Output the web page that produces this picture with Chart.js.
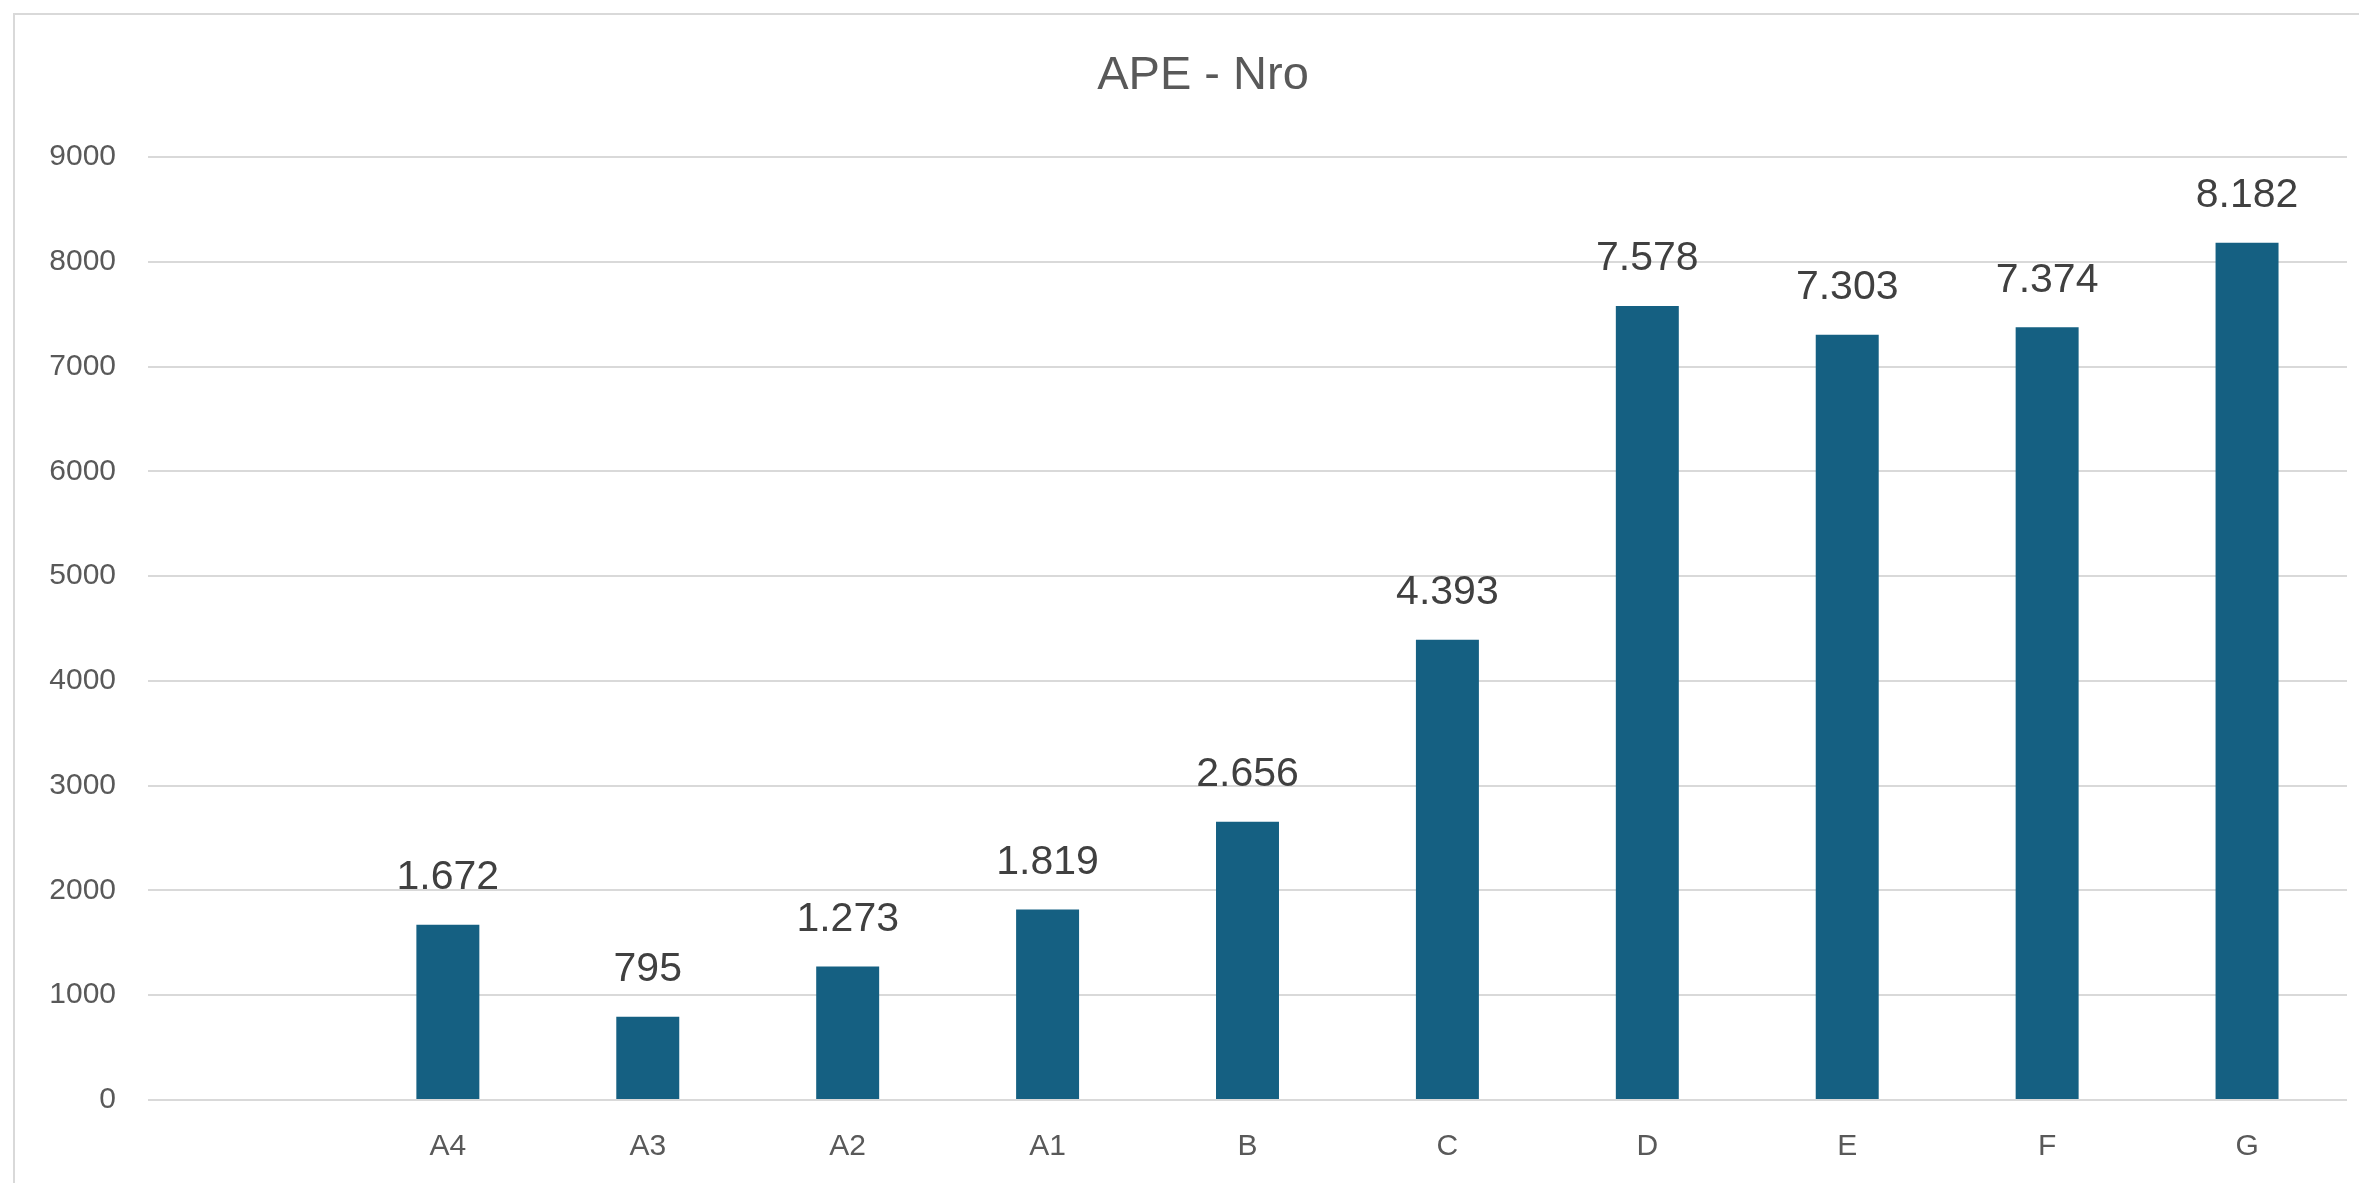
<!DOCTYPE html>
<html>
<head>
<meta charset="utf-8">
<script src="https://cdn.jsdelivr.net/npm/chart.js@4/dist/chart.umd.min.js"></script>
<style>
  html, body { margin: 0; padding: 0; background: #fff; overflow: hidden; }
  canvas { display: block; }
</style>
</head>
<body>
<canvas id="ape" width="2359" height="1183"></canvas>
<script>
// first slot is empty in the original sheet
const categories = ["", "A4", "A3", "A2", "A1", "B", "C", "D", "E", "F", "G"];
const counts = [null, 1672, 795, 1273, 1819, 2656, 4393, 7578, 7303, 7374, 8182];
const yTicks = [0, 1000, 2000, 3000, 4000, 5000, 6000, 7000, 8000, 9000];
const titleText = "APE - Nro";

const FONT = "'Liberation Sans', Arial, sans-serif";

function fmt(v) {
  return String(v).replace(/\B(?=(\d{3})+(?!\d))/g, ".");
}

// value labels above the bars
const barLabels = {
  id: "barLabels",
  afterDatasetsDraw(chart) {
    const ctx = chart.ctx;
    const meta = chart.getDatasetMeta(0);
    ctx.save();
    ctx.font = "41px " + FONT;
    ctx.fillStyle = "#404040";
    ctx.textAlign = "center";
    ctx.textBaseline = "middle";
    meta.data.forEach(function (bar, i) {
      const v = chart.data.datasets[0].data[i];
      if (v == null) return;
      ctx.fillText(fmt(v), bar.x, bar.y - 47);
    });
    ctx.restore();
  },
};

// chart frame (left + top edges visible) and the title, which sits a bit right of centre
const frame = {
  id: "frame",
  beforeDraw(chart) {
    const ctx = chart.ctx;
    ctx.save();
    ctx.strokeStyle = "#D9D9D9";
    ctx.lineWidth = 2;
    ctx.beginPath();
    ctx.moveTo(14, chart.height);
    ctx.lineTo(14, 14);
    ctx.lineTo(chart.width, 14);
    ctx.stroke();
    ctx.restore();
  },
  afterDraw(chart) {
    const ctx = chart.ctx;
    ctx.save();
    ctx.font = "47px " + FONT;
    ctx.fillStyle = "#595959";
    ctx.textAlign = "center";
    ctx.textBaseline = "middle";
    ctx.fillText(titleText, 1203, 76);
    ctx.restore();
  },
};

new Chart(document.getElementById("ape"), {
  type: "bar",
  plugins: [frame, barLabels],
  options: {
    responsive: false,
    devicePixelRatio: 1,
    animation: false,
    layout: {
      padding: { left: 15, right: 12, top: 157, bottom: 0 },
    },
    scales: {
      x: {
        grid: { display: false },
        border: { display: false },
        ticks: {
          color: "#595959",
          font: { family: FONT, size: 30 },
          padding: 21,
          maxRotation: 0,
        },
        afterFit: function (scale) {
          scale.height = 83;
        },
      },
      y: {
        min: 0,
        max: 9000,
        afterBuildTicks: function (scale) {
          scale.ticks = yTicks.map(function (v) { return { value: v }; });
        },
        grid: {
          color: "#D9D9D9",
          lineWidth: 2,
          drawTicks: false,
        },
        border: { display: false },
        ticks: {
          color: "#595959",
          font: { family: FONT, size: 30 },
          padding: 32,
          callback: function (value) {
            return String(value);
          },
        },
        afterFit: function (scale) {
          scale.width = 133;
        },
      },
    },
    plugins: {
      legend: { display: false },
      tooltip: { enabled: false },
      title: { display: false },
    },
  },
  data: {
    labels: categories,
    datasets: [
      {
        label: titleText,
        data: counts,
        backgroundColor: "#156082",
        categoryPercentage: 1,
        barPercentage: 0.315,
      },
    ],
  },
});
</script>
</body>
</html>
